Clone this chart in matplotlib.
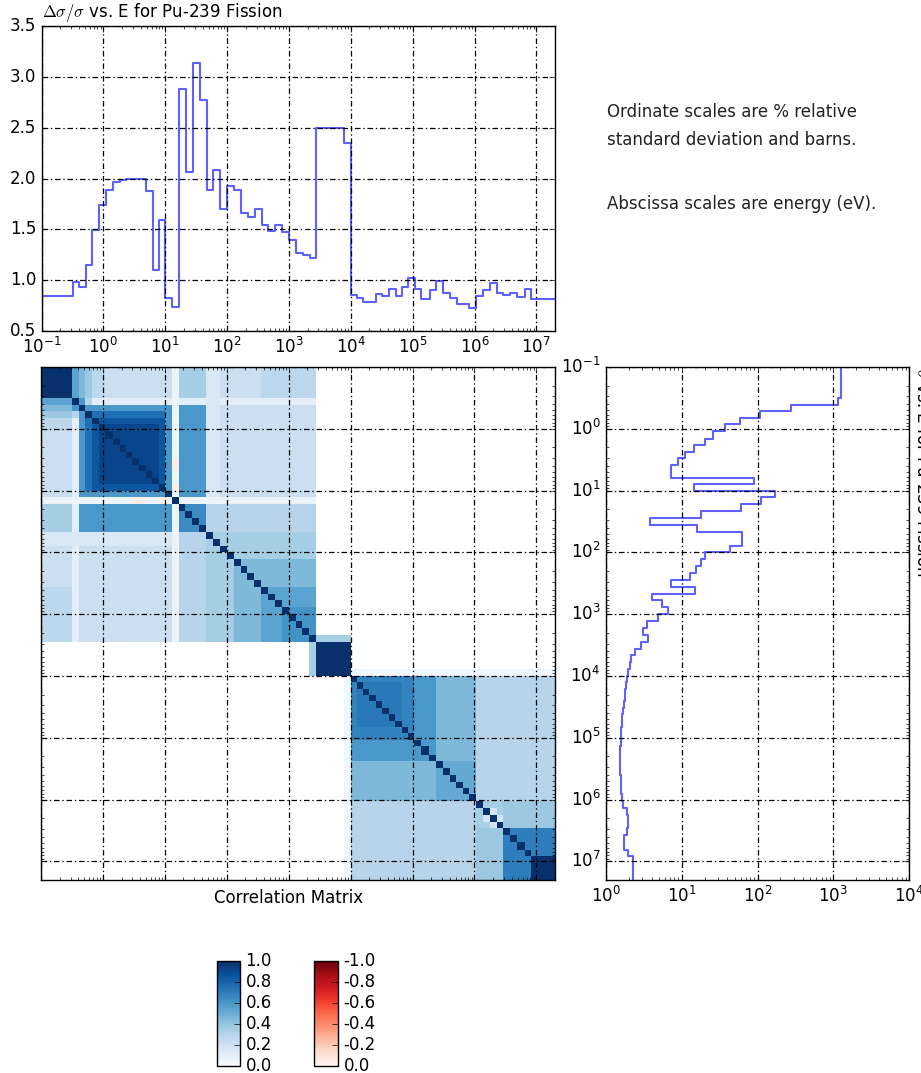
import numpy as np
import matplotlib
matplotlib.use("Agg")
import matplotlib.pyplot as plt
from matplotlib.cm import ScalarMappable
from matplotlib.colors import Normalize

plt.style.use("classic")
plt.rcParams["font.family"] = ["DejaVu Sans"]

# ---------------- data ----------------
# group boundaries (eV), ascending
energy_edges_eV = [
    0.1, 0.316, 0.407, 0.519, 0.664, 0.851, 1.084, 1.445, 1.862, 2.344,
    3.0, 3.837, 4.898, 6.237, 7.943,
    10.0, 12.91, 16.67, 21.53, 27.8, 35.97, 46.45, 59.98, 77.45,
    100.0, 129.1, 166.7, 215.3, 278.0, 359.7, 464.5, 599.8, 774.5,
    1000.0, 1291.0, 1667.0, 2153.0, 2780.0, 3597.0, 4645.0, 5998.0, 7745.0,
    1.0e4, 1.27e4, 1.596e4, 1.995e4, 2.541e4, 3.236e4, 4.169e4, 5.297e4, 6.745e4, 8.453e4,
    1.074e5, 1.349e5, 1.879e5, 2.393e5, 3.126e5, 3.972e5, 5.117e5, 6.457e5, 8.166e5,
    1.067e6, 1.393e6, 1.770e6, 2.312e6, 2.897e6, 3.690e6, 4.808e6, 6.457e6, 8.204e6,
    2.0e7,
]

# relative standard deviation (%) per group
rel_std_dev_pct = [
    0.84, 0.98, 0.93, 1.15, 1.49, 1.74, 1.89, 1.97, 1.99, 2.00, 2.00, 2.00, 1.88, 1.10, 1.59,
    0.82, 0.74, 2.88, 2.06, 3.14, 2.77, 1.89, 2.08, 1.70,
    1.93, 1.89, 1.66, 1.62, 1.70, 1.54, 1.48, 1.54, 1.47,
    1.40, 1.27, 1.25, 1.22, 2.50, 2.50, 2.50, 2.50, 2.35,
    0.85, 0.82, 0.79, 0.79, 0.86, 0.84, 0.91, 0.84, 0.93, 1.02,
    0.91, 0.81, 0.90, 0.99, 0.87, 0.82, 0.77, 0.77, 0.73,
    0.84, 0.90, 0.97, 0.87, 0.85, 0.87, 0.83, 0.91, 0.81,
]

# fission cross section (barns) per group
cross_section_b = [
    1250, 1140, 275, 109, 58, 37, 26, 20, 14.6, 11.2, 8.9, 7.2, 7.2, 91, 14.6,
    172, 112, 60, 18, 3.8, 16, 63, 63, 44,
    20, 18, 15.6, 13, 7.2, 15, 4.0, 5.5, 6.5,
    4.8, 3.5, 3.1, 3.6, 2.9, 2.4, 2.15, 2.1, 1.95,
    1.88, 1.85, 1.80, 1.76, 1.72, 1.68, 1.64, 1.62, 1.60, 1.58,
    1.56, 1.55, 1.54, 1.54, 1.55, 1.56, 1.57, 1.59, 1.62,
    1.70, 1.90, 1.97, 1.97, 1.90, 1.75, 1.72, 1.95, 2.30,
]

# correlation matrix, read as rectangular regions of groups
# (first row group, last row group, first col group, last col group, correlation)
corr_blocks = [
    (1, 37, 1, 37, 0.22),
    (1, 1, 2, 2, 0.55), (1, 1, 3, 3, 0.45), (1, 1, 4, 4, 0.38), (1, 1, 5, 6, 0.28),
    (1, 1, 18, 21, 0.35), (1, 1, 30, 37, 0.28),
    (2, 2, 3, 3, 0.60), (2, 2, 4, 4, 0.30), (2, 2, 5, 37, 0.10),
    (3, 16, 3, 16, 0.60), (4, 15, 4, 15, 0.75), (5, 15, 5, 15, 0.85), (6, 14, 6, 14, 0.92),
    (18, 21, 3, 16, 0.60), (18, 21, 18, 21, 0.65), (18, 21, 22, 37, 0.30),
    (22, 37, 22, 37, 0.35), (26, 37, 26, 37, 0.45), (30, 37, 30, 37, 0.55), (33, 37, 33, 37, 0.62),
    (22, 23, 1, 16, 0.15),
    (17, 17, 1, 37, 0.06), (17, 17, 11, 12, -0.05), (17, 17, 15, 15, -0.05),
    (38, 42, 38, 42, 1.00), (37, 37, 38, 42, 0.35), (42, 42, 43, 70, 0.04),
    (43, 70, 43, 70, 0.30), (43, 55, 43, 55, 0.60), (43, 52, 43, 52, 0.68), (44, 50, 44, 50, 0.72),
    (43, 55, 56, 61, 0.45), (56, 61, 56, 61, 0.52),
    (62, 65, 62, 65, 0.35), (63, 63, 64, 64, 0.18), (64, 64, 65, 65, 0.18),
    (66, 70, 66, 70, 0.70), (62, 65, 66, 70, 0.38),
]

unc_yticks = [0.5, 1.0, 1.5, 2.0, 2.5, 3.0, 3.5]
cbar_ticks = [0.0, 0.2, 0.4, 0.6, 0.8, 1.0]
pos_cbar_labels = ["0.0", "0.2", "0.4", "0.6", "0.8", "1.0"]
neg_cbar_labels = ["0.0", "-0.2", "-0.4", "-0.6", "-0.8", "-1.0"]
top_title = r"$\Delta\sigma/\sigma$ vs. E for Pu-239 Fission"
side_title = r"$\sigma$ vs. E for Pu-239 Fission"
note_lines = ["Ordinate scales are % relative",
              "standard deviation and barns.",
              "Abscissa scales are energy (eV)."]
matrix_label = "Correlation Matrix"

# ---------------- figure ----------------
W, H = 921, 1073
fig = plt.figure(figsize=(W / 100, H / 100), dpi=100, facecolor="white")


def px(l, t, r, b):
    return [l / W, 1 - b / H, (r - l) / W, (b - t) / H]


grid_kw = dict(color="black", linestyle=(0, (4, 2, 1, 2)), linewidth=0.9)
line_color = "#6060ff"

E = np.array(energy_edges_eV)
unc = np.array(rel_std_dev_pct)
xs = np.array(cross_section_b)
n = len(unc)

# --- top: uncertainty vs energy
ax1 = fig.add_axes(px(41.6, 26, 555, 331))
ax1.step(E, np.append(unc, unc[-1]), where="post", color=line_color, lw=1.5)
ax1.set_xscale("log")
ax1.set_xlim(0.1, 2e7)
ax1.set_ylim(0.5, 3.5)
ax1.set_yticks(unc_yticks)
ax1.grid(True, which="major", **grid_kw)
fig.text(42 / W, 1 - 13 / H, top_title, ha="left", va="center", fontsize=12)

# --- notes
for txt, yp in zip(note_lines, [112, 140, 204]):
    fig.text(607 / W, 1 - yp / H, txt, ha="left", va="center", fontsize=12, color="#222222")

# --- correlation matrix
C = np.zeros((n, n))
for r0, r1, c0, c1, v in corr_blocks:
    C[r0 - 1:r1, c0 - 1:c1] = v
    C[c0 - 1:c1, r0 - 1:r1] = v
np.fill_diagonal(C, 1.0)

ax2 = fig.add_axes(px(41, 367, 555, 880))
pos = np.ma.masked_where(C <= 0, C)
neg = np.ma.masked_where(C >= 0, -C)
ax2.pcolormesh(E, E, pos, cmap="Blues", vmin=0, vmax=1)
ax2.pcolormesh(E, E, neg, cmap="Reds", vmin=0, vmax=1)
ax2.set_xscale("log")
ax2.set_yscale("log")
ax2.set_xlim(0.1, 2e7)
ax2.set_ylim(2e7, 0.1)
ax2.tick_params(which="both", labelbottom=False, labelleft=False,
                labeltop=False, labelright=False)
ax2.grid(True, which="major", **grid_kw)
fig.text(289 / W, 1 - 898 / H, matrix_label, ha="center", va="center", fontsize=12)

# --- right: cross section vs energy
ax3 = fig.add_axes(px(606, 367, 909, 880))
ys = np.repeat(E, 2)[1:-1]
xv = np.repeat(xs, 2)
ax3.plot(xv, ys, color=line_color, lw=1.5)
ax3.set_xscale("log")
ax3.set_yscale("log")
ax3.set_xlim(1, 1e4)
ax3.set_ylim(2e7, 0.1)
ax3.grid(True, which="major", **grid_kw)
fig.text(913 / W, 1 - 368 / H, side_title, rotation=270, ha="left", va="top", fontsize=12)

# --- colorbars
cax1 = fig.add_axes(px(217, 961, 240, 1066))
cb1 = fig.colorbar(ScalarMappable(Normalize(0, 1), cmap="Blues"), cax=cax1, ticks=cbar_ticks)
cb1.ax.set_yticklabels(pos_cbar_labels, fontsize=12)

cax2 = fig.add_axes(px(314, 961, 338, 1066))
cb2 = fig.colorbar(ScalarMappable(Normalize(0, 1), cmap="Reds"), cax=cax2, ticks=cbar_ticks)
cb2.ax.set_yticklabels(neg_cbar_labels, fontsize=12)

fig.savefig("out.png", dpi=100, facecolor="white")
